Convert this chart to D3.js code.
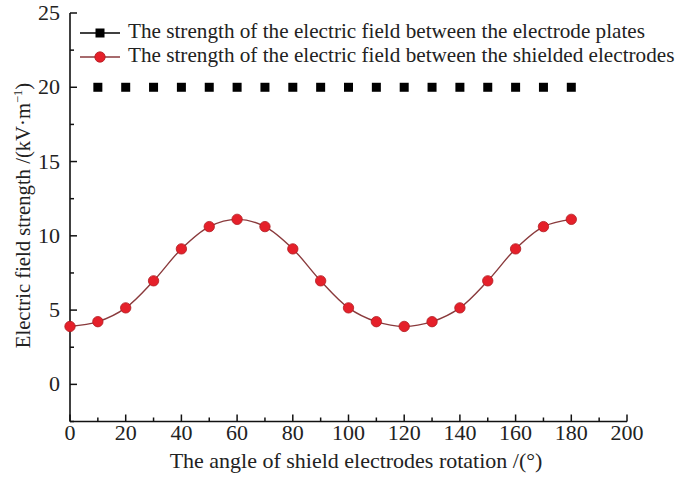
<!DOCTYPE html>
<html><head><meta charset="utf-8">
<script src="https://cdn.jsdelivr.net/npm/d3@7"></script>
<style>body{margin:0;background:#fff}svg{display:block}text{font-family:"Liberation Serif","Times New Roman",serif;fill:#222}</style>
</head><body>
<script>
const anglesPlates = [10,20,30,40,50,60,70,80,90,100,110,120,130,140,150,160,170,180];
const valuesPlates = [20,20,20,20,20,20,20,20,20,20,20,20,20,20,20,20,20,20];
const anglesShield = [0,10,20,30,40,50,60,70,80,90,100,110,120,130,140,150,160,170,180];
const valuesShield = [3.9,4.22,5.15,6.97,9.12,10.62,11.11,10.62,9.12,6.97,5.15,4.22,3.9,4.22,5.15,6.97,9.12,10.62,11.11];
const xTicks = [0,20,40,60,80,100,120,140,160,180,200];
const yTicks = [0,5,10,15,20,25];
const legendLabels = ["The strength of the electric field between the electrode plates","The strength of the electric field between the shielded electrodes"];

const W=679,H=477;
const svg=d3.select("body").append("svg").attr("width",W).attr("height",H);
const x=d3.scaleLinear().domain([0,200]).range([70,627]);
const y=d3.scaleLinear().domain([-2.5,25]).range([421.5,13]);
const SX=1.1;

const g=svg.append("g");
// x axis
const xMinor=d3.range(10,200,20);
g.append("line").attr("x1",x(0)).attr("x2",x(200)).attr("y1",y(-2.5)).attr("y2",y(-2.5)).attr("stroke","#111").attr("stroke-width",1.6);
g.selectAll(".xt").data(xTicks).join("line").attr("x1",d=>x(d)).attr("x2",d=>x(d)).attr("y1",y(-2.5)).attr("y2",y(-2.5)-7).attr("stroke","#111").attr("stroke-width",1.5);
g.selectAll(".xm").data(xMinor).join("line").attr("x1",d=>x(d)).attr("x2",d=>x(d)).attr("y1",y(-2.5)).attr("y2",y(-2.5)-4).attr("stroke","#111").attr("stroke-width",1.5);
g.selectAll(".xl").data(xTicks).join("text").attr("transform",d=>`translate(${x(d)},440) scale(${SX},1)`).attr("text-anchor","middle").attr("font-size",20).text(d=>d);
// y axis
const yMinor=[-2.5,2.5,7.5,12.5,17.5,22.5];
g.append("line").attr("x1",x(0)).attr("x2",x(0)).attr("y1",y(-2.5)).attr("y2",y(25)).attr("stroke","#111").attr("stroke-width",1.6);
g.selectAll(".yt").data(yTicks).join("line").attr("x1",x(0)).attr("x2",x(0)+7).attr("y1",d=>y(d)).attr("y2",d=>y(d)).attr("stroke","#111").attr("stroke-width",1.5);
g.selectAll(".ym").data(yMinor).join("line").attr("x1",x(0)).attr("x2",x(0)+4).attr("y1",d=>y(d)).attr("y2",d=>y(d)).attr("stroke","#111").attr("stroke-width",1.5);
g.selectAll(".yl").data(yTicks).join("text").attr("transform",d=>`translate(60,${y(d)+7}) scale(${SX},1)`).attr("text-anchor","end").attr("font-size",20).text(d=>d);

// axis titles
svg.append("text").attr("transform",`translate(356,468) scale(${SX},1)`).attr("text-anchor","middle").attr("font-size",20).text("The angle of shield electrodes rotation /(°)");
const yt=svg.append("text").attr("transform","translate(30,215.5) rotate(-90)").attr("text-anchor","middle").attr("font-size",20.7);
yt.append("tspan").text("Electric field strength /(kV·m");
yt.append("tspan").attr("dy",-8).attr("font-size",12.5).text("−1");
yt.append("tspan").attr("dy",8).text(")");

// shield line
const line=d3.line().x((d,i)=>x(anglesShield[i])).y(d=>y(d)).curve(d3.curveCatmullRom.alpha(0.5));
svg.append("path").datum(valuesShield).attr("d",line).attr("fill","none").attr("stroke","#8a3a3c").attr("stroke-width",1.4);
svg.selectAll(".pt").data(valuesShield).join("circle").attr("cx",(d,i)=>x(anglesShield[i])).attr("cy",d=>y(d)).attr("r",5.2).attr("fill","#e5202a").attr("stroke","#b01a20").attr("stroke-width",0.8);

// plates squares
svg.selectAll(".sq").data(valuesPlates).join("rect").attr("x",(d,i)=>x(anglesPlates[i])-4.5).attr("y",d=>y(d)-4.5).attr("width",9).attr("height",9).attr("fill","#000");

// legend
const lg=svg.append("g");
lg.append("line").attr("x1",80).attr("x2",120).attr("y1",33).attr("y2",33).attr("stroke","#000").attr("stroke-width",1.4);
lg.append("rect").attr("x",95.5).attr("y",28.5).attr("width",9).attr("height",9).attr("fill","#000");
lg.append("line").attr("x1",80).attr("x2",120).attr("y1",57).attr("y2",57).attr("stroke","#8a3a3c").attr("stroke-width",1.4);
lg.append("circle").attr("cx",100).attr("cy",57).attr("r",5.2).attr("fill","#e5202a").attr("stroke","#b01a20").attr("stroke-width",0.8);
lg.selectAll(".lt").data(legendLabels).join("text").attr("transform",(d,i)=>`translate(128,${38+i*24}) scale(1.06,1)`).attr("font-size",20).text(d=>d);
</script>
</body></html>
